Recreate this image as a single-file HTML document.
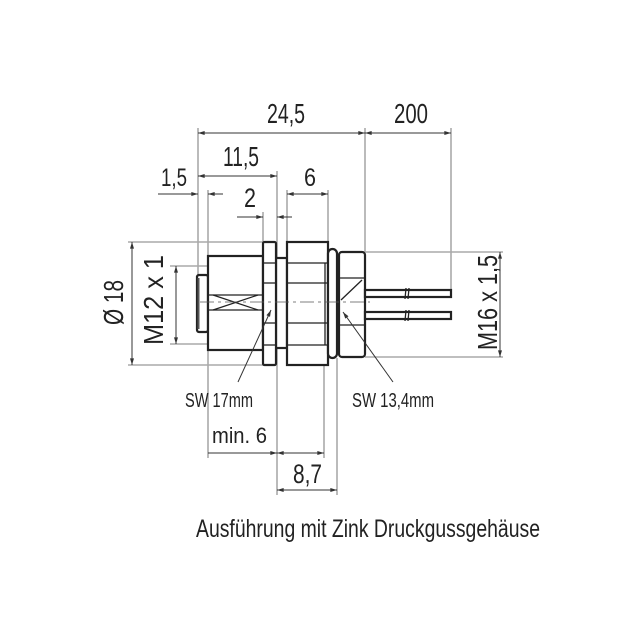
<!DOCTYPE html>
<html><head><meta charset="utf-8"><style>
html,body{margin:0;padding:0;background:#fff}
svg{display:block}
text{font-family:"Liberation Sans Narrow","Liberation Sans",sans-serif;fill:#222}
</style></head><body>
<svg width="641" height="643" viewBox="0 0 641 643" xmlns="http://www.w3.org/2000/svg">
<defs>
<marker id="a" viewBox="0 0 10 6" refX="10" refY="3" markerWidth="7" markerHeight="4" orient="auto-start-reverse" markerUnits="userSpaceOnUse"><path d="M0,0L10,3L0,6z" fill="#333"/></marker>
</defs>
<!-- extension lines -->
<g stroke="#aaa" stroke-width="1.6" fill="none">
<line x1="198" y1="128" x2="198" y2="277"/>
<line x1="208" y1="190" x2="208" y2="256"/>
<line x1="263" y1="212" x2="263" y2="242"/>
<line x1="277" y1="171" x2="277" y2="495"/>
<line x1="287" y1="190" x2="287" y2="242"/>
<line x1="328" y1="190" x2="328" y2="242"/>
<line x1="337" y1="358" x2="337" y2="495"/>
<line x1="365" y1="128" x2="365" y2="252"/>
<line x1="451" y1="128" x2="451" y2="290"/>
<line x1="208" y1="350" x2="208" y2="458"/>
<line x1="324" y1="365" x2="324" y2="458"/>
<line x1="128" y1="242" x2="263" y2="242"/>
<line x1="128" y1="365" x2="263" y2="365"/>
<line x1="170" y1="266" x2="208" y2="266"/>
<line x1="170" y1="344" x2="208" y2="344"/>
<line x1="365" y1="252" x2="503" y2="252"/>
<line x1="365" y1="357" x2="503" y2="357"/>
</g>
<!-- dimension lines -->
<g stroke="#333" stroke-width="1" fill="none">
<line x1="198" y1="133" x2="365" y2="133" marker-start="url(#a)" marker-end="url(#a)"/>
<line x1="365" y1="133" x2="451" y2="133" marker-start="url(#a)" marker-end="url(#a)"/>
<line x1="198" y1="176" x2="277" y2="176" marker-start="url(#a)" marker-end="url(#a)"/>
<line x1="158" y1="194" x2="198" y2="194" marker-end="url(#a)"/>
<line x1="223" y1="194" x2="208" y2="194" marker-end="url(#a)"/>
<line x1="287" y1="194" x2="328" y2="194" marker-start="url(#a)" marker-end="url(#a)"/>
<line x1="237" y1="217" x2="263" y2="217" marker-end="url(#a)"/>
<line x1="292" y1="217" x2="277" y2="217" marker-end="url(#a)"/>
<line x1="208" y1="453" x2="277" y2="453" marker-end="url(#a)"/>
<line x1="277" y1="453" x2="324" y2="453" marker-start="url(#a)" marker-end="url(#a)"/>
<line x1="277" y1="490" x2="337" y2="490" marker-start="url(#a)" marker-end="url(#a)"/>
<line x1="132" y1="242" x2="132" y2="365" marker-start="url(#a)" marker-end="url(#a)"/>
<line x1="176" y1="266" x2="176" y2="344" marker-start="url(#a)" marker-end="url(#a)"/>
<line x1="500" y1="252" x2="500" y2="357" marker-start="url(#a)" marker-end="url(#a)"/>
</g>
<!-- part -->
<g stroke="#222" stroke-width="2.2" fill="#fff">
<rect x="197" y="275" width="11" height="57" rx="2"/>
<rect x="208" y="256" width="55" height="94"/>
<rect x="276" y="258" width="11" height="90"/>
<rect x="263" y="242" width="13" height="123" rx="1.5"/>
<rect x="287" y="242" width="41" height="123"/>
<rect x="328" y="249" width="9" height="109" rx="4.5"/>
<rect x="339" y="252" width="26" height="105" rx="3"/>
<rect x="365" y="290" width="86" height="7"/>
<rect x="365" y="312" width="86" height="7"/>
</g>
<line x1="198.5" y1="278" x2="198.5" y2="329" stroke="#555" stroke-width="2"/>
<g stroke="#222" stroke-width="1.3" fill="none">
<line x1="208" y1="295" x2="263" y2="295"/>
<line x1="208" y1="310" x2="263" y2="310"/>
<line x1="213" y1="295" x2="258" y2="310"/>
<line x1="213" y1="310" x2="258" y2="295"/>
<line x1="263" y1="263" x2="276" y2="263"/><line x1="263" y1="283" x2="276" y2="283"/>
<line x1="263" y1="323" x2="276" y2="323"/><line x1="263" y1="345" x2="276" y2="345"/>
<line x1="287" y1="263" x2="328" y2="263"/><line x1="287" y1="283" x2="328" y2="283"/>
<line x1="287" y1="323" x2="328" y2="323"/><line x1="287" y1="345" x2="328" y2="345"/>
<line x1="325" y1="263" x2="325" y2="345"/>
<line x1="339" y1="278" x2="365" y2="278"/><line x1="339" y1="325" x2="365" y2="325"/>
<line x1="341" y1="300" x2="362" y2="280"/>
<line x1="406" y1="288" x2="405" y2="299"/><line x1="409" y1="288" x2="408" y2="299"/>
<line x1="406" y1="310" x2="405" y2="321"/><line x1="409" y1="310" x2="408" y2="321"/>
</g>
<line x1="200" y1="302" x2="370" y2="302" stroke="#555" stroke-width="0.8" stroke-dasharray="14,4,3,4"/>
<g stroke="#333" stroke-width="1" fill="none">
<line x1="238" y1="382" x2="271" y2="310" marker-end="url(#a)"/>
<line x1="393" y1="382" x2="343" y2="312" marker-end="url(#a)"/>
</g>
<!-- labels -->
<text x="267" y="123" font-size="28" textLength="38" lengthAdjust="spacingAndGlyphs">24,5</text>
<text x="394" y="123" font-size="28" textLength="34" lengthAdjust="spacingAndGlyphs">200</text>
<text x="223" y="166" font-size="28" textLength="36" lengthAdjust="spacingAndGlyphs">11,5</text>
<text x="161" y="186" font-size="25" textLength="26" lengthAdjust="spacingAndGlyphs">1,5</text>
<text x="304" y="186" font-size="25" textLength="12" lengthAdjust="spacingAndGlyphs">6</text>
<text x="244" y="207" font-size="27" textLength="12" lengthAdjust="spacingAndGlyphs">2</text>
<text x="185" y="407" font-size="20" textLength="68" lengthAdjust="spacingAndGlyphs">SW 17mm</text>
<text x="352" y="407" font-size="20" textLength="82" lengthAdjust="spacingAndGlyphs">SW 13,4mm</text>
<text x="212" y="443" font-size="22" textLength="55" lengthAdjust="spacingAndGlyphs">min. 6</text>
<text x="293" y="483" font-size="27" textLength="29" lengthAdjust="spacingAndGlyphs">8,7</text>
<text transform="translate(123,325) rotate(-90)" font-size="28" textLength="45" lengthAdjust="spacingAndGlyphs">Ø 18</text>
<text transform="translate(163,345) rotate(-90)" font-size="28" textLength="90" lengthAdjust="spacingAndGlyphs">M12 x 1</text>
<text transform="translate(497,350) rotate(-90)" font-size="28" textLength="95" lengthAdjust="spacingAndGlyphs">M16 x 1,5</text>
<text x="196" y="537" font-size="25" textLength="344" lengthAdjust="spacingAndGlyphs">Ausführung mit Zink Druckgussgehäuse</text>
</svg>
</body></html>
